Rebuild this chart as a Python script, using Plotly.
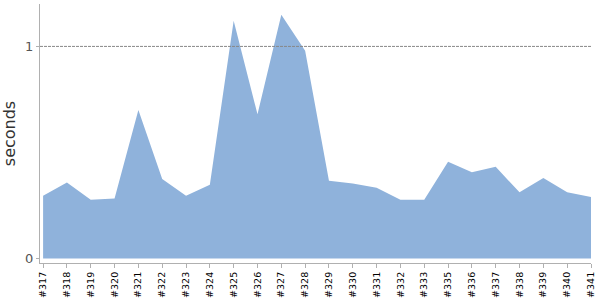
import plotly.graph_objects as go

builds = ["#317", "#318", "#319", "#320", "#321", "#322", "#323", "#324", "#325", "#326",
          "#327", "#328", "#329", "#330", "#331", "#332", "#333", "#335", "#336", "#337",
          "#338", "#339", "#340", "#341"]
seconds = [0.296, 0.358, 0.277, 0.283, 0.700, 0.375, 0.296, 0.348, 1.121, 0.680,
           1.149, 0.979, 0.367, 0.353, 0.333, 0.277, 0.277, 0.456, 0.407, 0.432,
           0.312, 0.380, 0.312, 0.290]
y_ticks = [0, 1]

fig = go.Figure()
fig.add_trace(go.Scatter(
    x=list(range(len(builds))), y=seconds, mode="lines", fill="tozeroy",
    line=dict(width=0, color="#8fb2db"), fillcolor="#8fb2db", hoverinfo="skip"))

fig.add_shape(type="line", xref="paper", yref="y", x0=0, x1=1, y0=1, y1=1,
              line=dict(color="#888888", width=1, dash="3px,1px"), layer="above")

fig.update_layout(
    width=600, height=300, margin=dict(l=40, r=9, t=4, b=37),
    paper_bgcolor="white", plot_bgcolor="white", showlegend=False,
    font=dict(family="DejaVu Sans", color="#333"),
    xaxis=dict(
        range=[-0.13, len(builds) - 1], tickmode="array",
        tickvals=list(range(len(builds))), ticktext=builds, tickangle=-90,
        tickfont=dict(size=9.5, color="#000"), showgrid=False, zeroline=False,
        showline=True, linecolor="#b0b0b0", linewidth=1,
        ticks="outside", ticklen=4, tickcolor="#b0b0b0", automargin=False),
    yaxis=dict(
        range=[-0.0213, 1.2], tickmode="array", tickvals=y_ticks,
        ticktext=[str(v) for v in y_ticks], tickfont=dict(size=13, color="#555"),
        showgrid=False, zeroline=False, showline=True, linecolor="#b0b0b0",
        linewidth=1, ticks="outside", ticklen=3, tickcolor="#b0b0b0",
        title=dict(text="seconds", font=dict(size=16, color="#333"), standoff=8),
        automargin=False),
)

fig.write_html("out.html")
